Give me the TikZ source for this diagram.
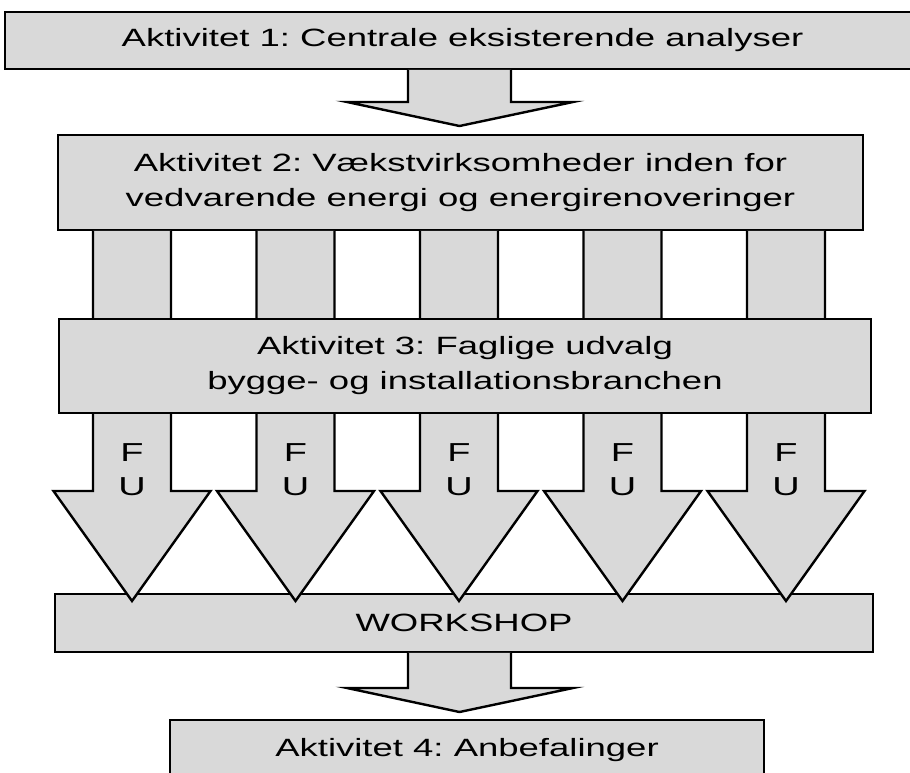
\documentclass[tikz,border=0pt]{standalone}
\usepackage{fontspec}
\setmainfont{Liberation Sans}[FakeStretch=1.46]
\usepackage{xcolor}
\definecolor{boxgray}{RGB}{217,217,217}
\usetikzlibrary{calc}
\frenchspacing

\begin{document}
\begin{tikzpicture}[x=1pt, y=-1pt,
  actbox/.style={rectangle, draw=black, fill=boxgray, line width=1.6pt,
                 inner sep=0pt, align=center,
                 font=\fontsize{25}{35}\selectfont},
  fulabel/.style={align=center, inner sep=0pt,
                  font=\fontsize{26}{34}\selectfont},
  barrow/.style={draw=black, fill=boxgray, line width=2.4pt}
]
\useasboundingbox (0,0) rectangle (910,772);
\clip (0,0) rectangle (910,772);

% Activity boxes
\node[actbox, minimum width=915pt, minimum height=57pt] (akt1) at (462.5, 40.5) {Aktivitet 1: Centrale eksisterende analyser};
\node[actbox, minimum width=805pt, minimum height=95pt] (akt2) at (460.5,182.5) {Aktivitet 2: V\ae kstvirksomheder inden for\\vedvarende energi og energirenoveringer};
\node[actbox, minimum width=818pt, minimum height=58pt] (work) at (464.0,623.0) {WORKSHOP};

% Arrow from activity 1 to activity 2
\draw[barrow] (akt1.south -| 408,0) -- (408,102) -- (347,102) -- (459.5,126)
              -- (573,102) -- (511,102) -- (akt1.south -| 511,0);

% FU arrows
\draw[barrow] (akt2.south -| 93,0)    -- (93,491)    -- (53.5,491)  -- (132,601)   -- (210.5,491) -- (171,491)   -- (akt2.south -| 171,0);
\draw[barrow] (akt2.south -| 256.5,0) -- (256.5,491) -- (217,491)   -- (295.5,601) -- (374,491)   -- (334.5,491) -- (akt2.south -| 334.5,0);
\draw[barrow] (akt2.south -| 420,0)   -- (420,491)   -- (380.5,491) -- (459,601)   -- (537.5,491) -- (498,491)   -- (akt2.south -| 498,0);
\draw[barrow] (akt2.south -| 583.5,0) -- (583.5,491) -- (544,491)   -- (622.5,601) -- (701,491)   -- (661.5,491) -- (akt2.south -| 661.5,0);
\draw[barrow] (akt2.south -| 747,0)   -- (747,491)   -- (707.5,491) -- (786,601)   -- (864.5,491) -- (825,491)   -- (akt2.south -| 825,0);

\node[fulabel] (fu1) at (132.0,470) {F\\U};
\node[fulabel] (fu2) at (295.5,470) {F\\U};
\node[fulabel] (fu3) at (459.0,470) {F\\U};
\node[fulabel] (fu4) at (622.5,470) {F\\U};
\node[fulabel] (fu5) at (786.0,470) {F\\U};

\node[actbox, minimum width=812pt, minimum height=94pt] (akt3) at (465.0,366.0) {Aktivitet 3: Faglige udvalg\\bygge- og installationsbranchen};
\node[actbox, minimum width=594pt, minimum height=60pt] (akt4) at (467.0,750.0) {Aktivitet 4: Anbefalinger};

% Arrow from workshop to activity 4
\draw[barrow] (work.south -| 408,0) -- (408,688) -- (347,688) -- (459.5,712)
              -- (573,688) -- (511,688) -- (work.south -| 511,0);
\end{tikzpicture}
\end{document}
